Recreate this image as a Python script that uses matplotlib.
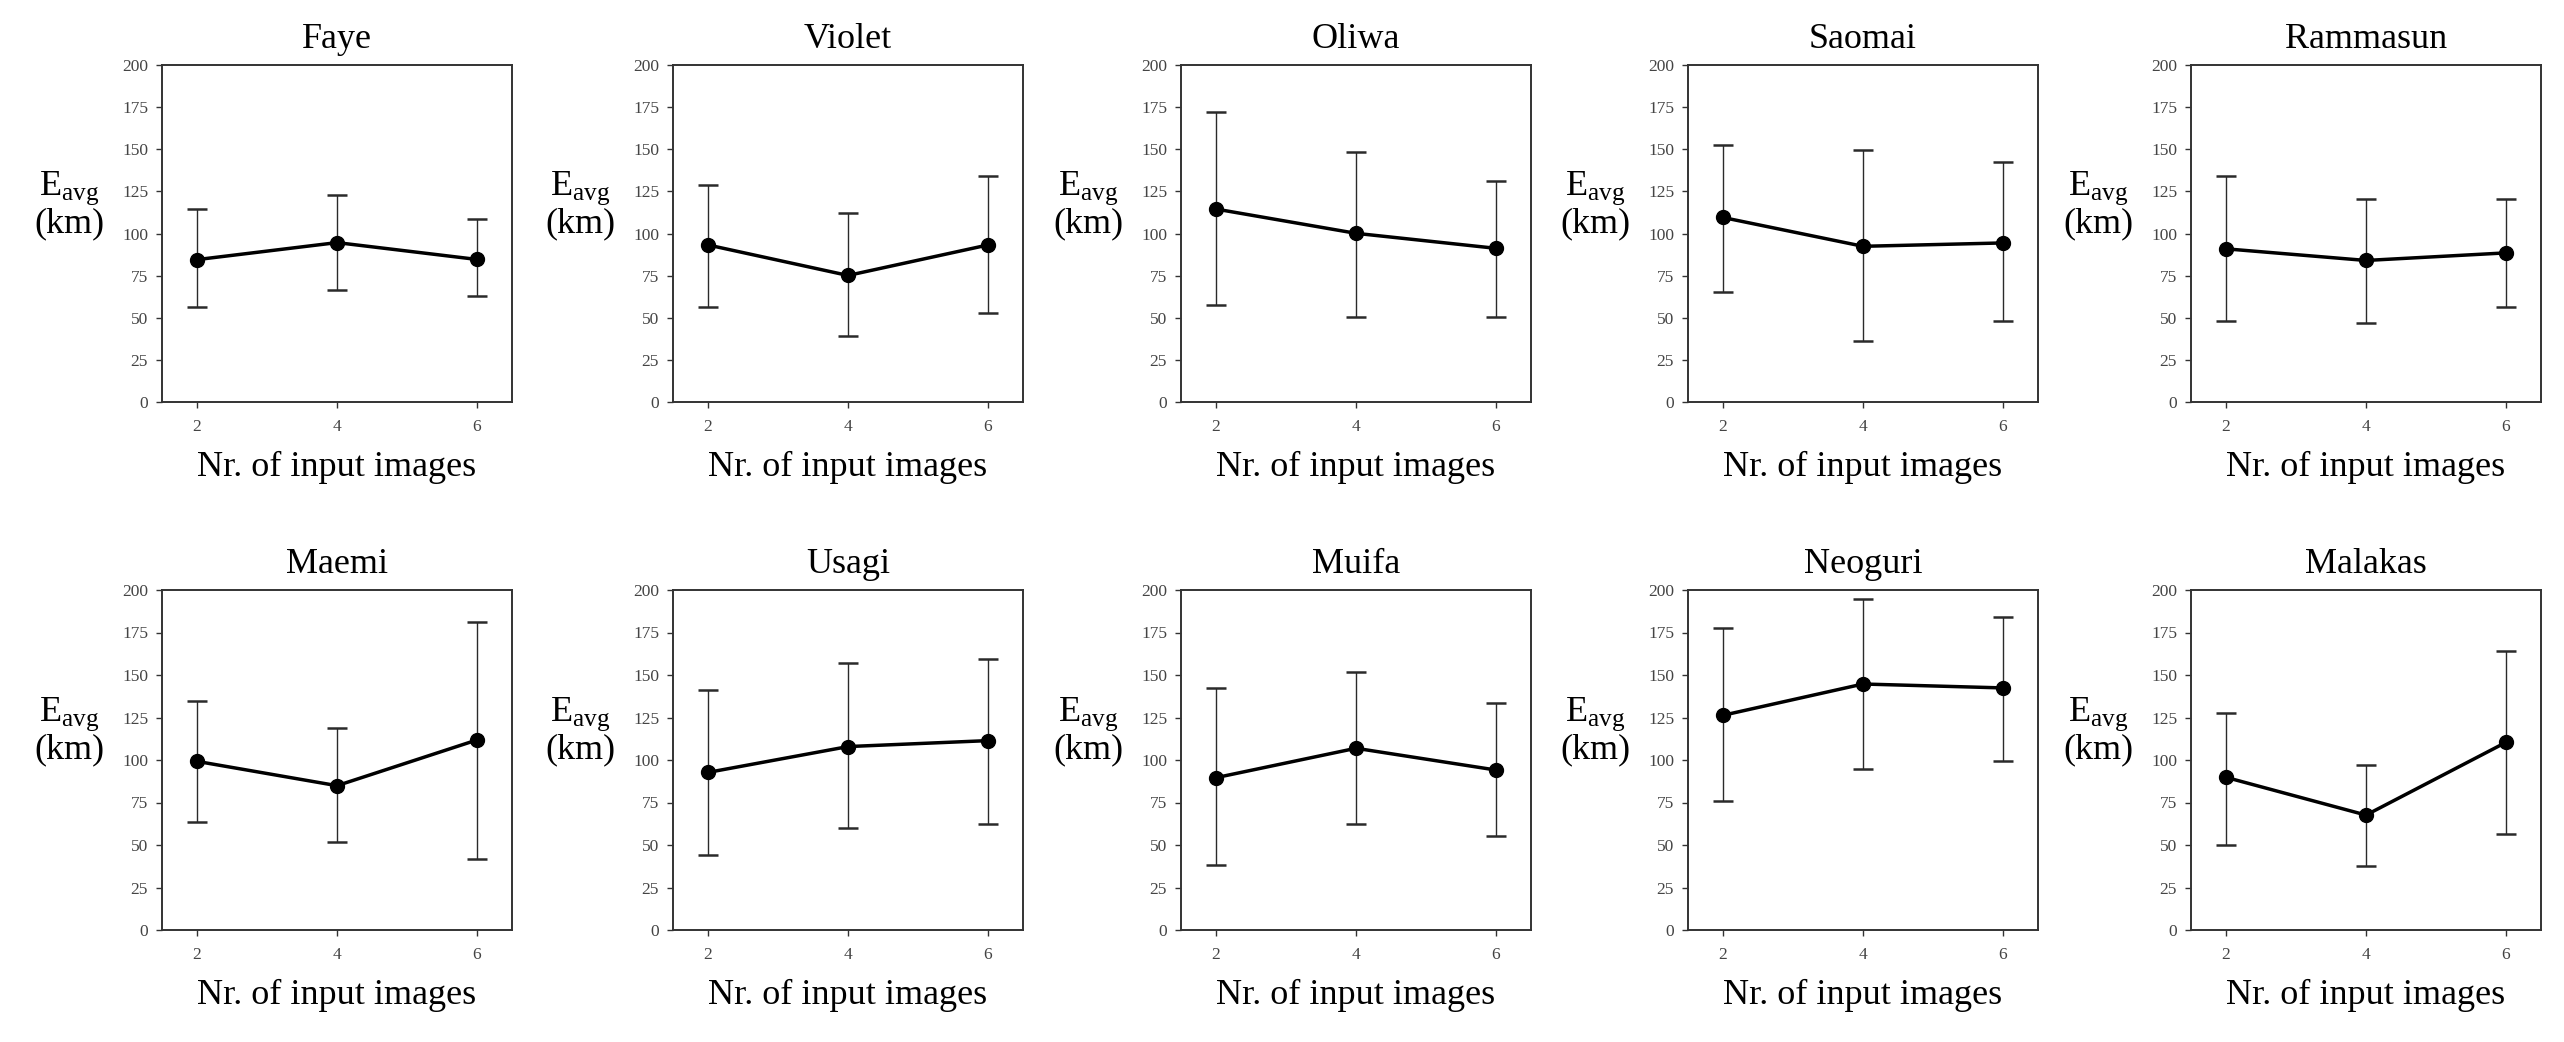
import matplotlib
matplotlib.use("Agg")
import matplotlib.pyplot as plt

plt.rcParams['font.family'] = ['Liberation Serif', 'DejaVu Serif']
plt.rcParams['mathtext.fontset'] = 'custom'
plt.rcParams['mathtext.rm'] = 'Liberation Serif'
plt.rcParams['mathtext.it'] = 'Liberation Serif:italic'

# typhoon names, one panel each (row by row)
storms = ['Faye', 'Violet', 'Oliwa', 'Saomai', 'Rammasun',
          'Maemi', 'Usagi', 'Muifa', 'Neoguri', 'Malakas']
n_images = [2, 4, 6]

# mean error (km) for 2, 4, 6 input images
e_mean = [
    [84.5, 94.6, 84.6],
    [93.2, 75.1, 93.2],
    [114.5, 100.1, 91.2],
    [109.5, 92.4, 94.4],
    [90.9, 84.0, 88.5],
    [99.2, 84.9, 111.8],
    [92.7, 107.9, 111.4],
    [89.6, 106.9, 94.1],
    [126.3, 144.7, 142.4],
    [89.8, 67.6, 110.4],
]
# lower end of the error bars
e_low = [
    [56.6, 66.3, 62.7],
    [56.6, 39.3, 53.1],
    [57.8, 50.5, 50.5],
    [65.1, 36.1, 48.3],
    [48.3, 47.0, 56.6],
    [63.7, 51.5, 41.7],
    [44.1, 59.8, 62.4],
    [38.0, 62.4, 55.1],
    [75.9, 94.5, 99.2],
    [50.2, 37.8, 56.5],
]
# upper end of the error bars
e_high = [
    [114.3, 122.9, 108.4],
    [129.0, 111.9, 133.9],
    [171.9, 148.6, 131.1],
    [152.4, 149.7, 142.4],
    [133.9, 120.4, 120.4],
    [134.8, 118.7, 181.3],
    [141.0, 156.9, 159.3],
    [142.3, 152.0, 133.7],
    [177.8, 194.9, 183.9],
    [127.5, 96.9, 164.4],
]
y_ticks = [0, 25, 50, 75, 100, 125, 150, 175, 200]

W, H = 2564, 1042
fig = plt.figure(figsize=(W / 100, H / 100), dpi=100)

# axes boxes in pixels: left edges per column, (top, bottom) per row
col_left = [162, 673, 1181, 1688, 2191]
row_span = [(65, 402), (590, 930)]
ax_w = 350

for i, name in enumerate(storms):
    r, c = divmod(i, 5)
    top, bot = row_span[r]
    ax = fig.add_axes([col_left[c] / W, 1 - bot / H,
                       ax_w / W, (bot - top) / H])

    mean = e_mean[i]
    lo = [m - l for m, l in zip(mean, e_low[i])]
    hi = [h - m for m, h in zip(mean, e_high[i])]
    ax.errorbar(n_images, mean, yerr=[lo, hi], fmt='-o', color='black',
                lw=2.5, ms=10, ecolor='#2a2a2a', elinewidth=1.0,
                capsize=7.5, capthick=1.8)

    ax.set_xlim(1.5, 6.5)
    ax.set_ylim(0, 200)
    ax.set_xticks(n_images)
    ax.set_yticks(y_ticks)
    ax.tick_params(axis='both', direction='out', length=4, width=1,
                   color='#333333', labelcolor='#444444', labelsize=12.5)
    ax.tick_params(axis='x', pad=8)
    ax.tick_params(axis='y', pad=6)
    for sp in ax.spines.values():
        sp.set_color('#333333')
        sp.set_linewidth(1.4)

    ax.set_title(name, fontsize=26, pad=12)
    ax.set_xlabel('Nr. of input images', fontsize=26, labelpad=12)
    ax.text(-93 / ax_w, 0.585, 'E$_{\\rm avg}$\n(km)', fontsize=26,
            ha='center', va='center', transform=ax.transAxes,
            linespacing=1.0)

fig.savefig('out.png', dpi=100, facecolor='white')
